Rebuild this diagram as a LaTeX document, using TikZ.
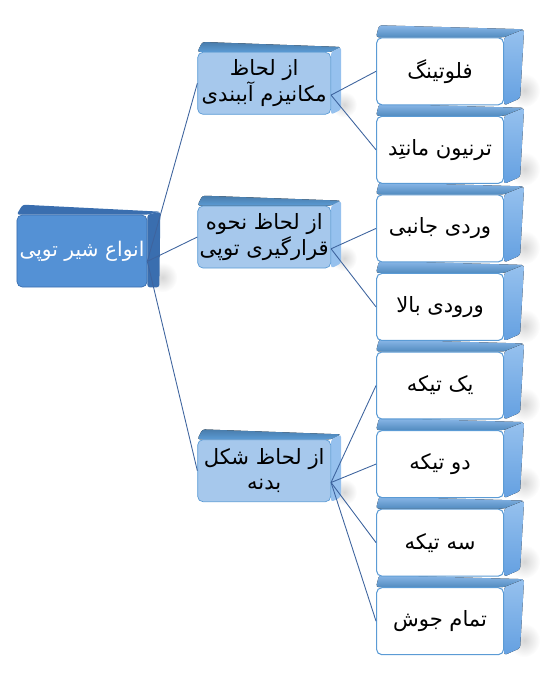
\documentclass[tikz,border=0pt]{standalone}
\usepackage{fontspec}
\newfontfamily\farsi[Script=Arabic]{DejaVu Sans}
\TeXXeTstate=1
\usepackage{tikz}
\usetikzlibrary{positioning}
\usetikzlibrary{backgrounds}
\usepackage{xcolor}
\definecolor{rootblue}{RGB}{84,145,213}
\definecolor{rootdark}{RGB}{58,110,175}
\definecolor{midblue}{RGB}{166,200,236}
\definecolor{edgeblue}{RGB}{91,155,213}
\definecolor{sideblue}{RGB}{100,160,225}
\definecolor{toplight}{RGB}{150,193,238}
\definecolor{linkblue}{RGB}{62,100,158}

\begin{document}
\begin{tikzpicture}

	\tikzstyle{rootblock} = [rectangle, draw=rootdark, fill=rootblue, text=white, text centered, rounded corners=3pt, minimum width=2.6cm, minimum height=1.44cm, inner sep=1pt, font=\farsi\fontsize{11.5}{14}\selectfont]
	\tikzstyle{midblock} = [rectangle, draw=edgeblue, fill=midblue, text centered, align=center, rounded corners=3pt, minimum width=2.66cm, minimum height=1.24cm, inner sep=1pt, font=\farsi\fontsize{12}{14.5}\selectfont]
	\tikzstyle{leafblock} = [rectangle, draw=edgeblue, line width=0.6pt, fill=white, text centered, rounded corners=3pt, minimum width=2.54cm, minimum height=1.34cm, inner sep=1pt, font=\farsi\fontsize{12}{14.5}\selectfont]
	\tikzstyle{rootside} = [rounded corners=1.5pt, fill=rootdark]
	\tikzstyle{midtop} = [rounded corners=1.5pt, top color=edgeblue!80!black, bottom color=edgeblue]
	\tikzstyle{midside} = [rounded corners=1.5pt, fill=toplight]
	\tikzstyle{leaftop} = [rounded corners=1.5pt, top color=sideblue!75!white, bottom color=edgeblue!90!black]
	\tikzstyle{leafside} = [rounded corners=1.5pt, top color=toplight, bottom color=sideblue]
	\tikzstyle{shadow} = [inner color=black!16, outer color=white]
	\tikzstyle{link} = [draw=linkblue, line width=0.5pt]

	\useasboundingbox (0,0) rectangle (11,-13.7);

	% root
	\node [rootblock] (root) at (1.64,-5.02) {\beginR انواع شیر توپی\endR};

	% middle level
	\node [midblock, right=1.0cm of root, yshift=0.28cm] (m2) {\beginR از لحاظ نحوه\endR\\\beginR قرارگیری توپی\endR};
	\node [midblock, above=1.82cm of m2] (m1) {\beginR از لحاظ\endR\\\beginR مکانیزم آببندی\endR};
	\node [midblock, below=3.42cm of m2] (m3) {\beginR از لحاظ شکل\endR\\\beginR بدنه\endR};

	% leaves
	\node [leafblock, right=0.9cm of m1, yshift=0.24cm] (l1) {\beginR فلوتینگ\endR};
	\node [leafblock, below=0.21cm of l1] (l2) {\beginR ترنیون مانتِد\endR};
	\node [leafblock, below=0.21cm of l2] (l3) {\beginR وردی جانبی\endR};
	\node [leafblock, below=0.21cm of l3] (l4) {\beginR ورودی بالا\endR};
	\node [leafblock, below=0.21cm of l4] (l5) {\beginR یک تیکه\endR};
	\node [leafblock, below=0.21cm of l5] (l6) {\beginR دو تیکه\endR};
	\node [leafblock, below=0.21cm of l6] (l7) {\beginR سه تیکه\endR};
	\node [leafblock, below=0.21cm of l7] (l8) {\beginR تمام جوش\endR};

	% shadows
	\begin{pgfonlayer}{background}
		\shade [shadow] ([shift={(0.3,0.2)}]root.south east) ellipse (0.3cm and 0.3cm);
		\shade [shadow] ([shift={(0.26,0.2)}]m1.south east) ellipse (0.26cm and 0.26cm);
		\shade [shadow] ([shift={(0.26,0.2)}]m2.south east) ellipse (0.26cm and 0.26cm);
		\shade [shadow] ([shift={(0.26,0.2)}]m3.south east) ellipse (0.26cm and 0.26cm);
		\shade [shadow] ([shift={(0.4,0.3)}]l1.south east) ellipse (0.32cm and 0.34cm);
		\shade [shadow] ([shift={(0.4,0.3)}]l2.south east) ellipse (0.32cm and 0.34cm);
		\shade [shadow] ([shift={(0.4,0.3)}]l3.south east) ellipse (0.32cm and 0.34cm);
		\shade [shadow] ([shift={(0.4,0.3)}]l4.south east) ellipse (0.32cm and 0.34cm);
		\shade [shadow] ([shift={(0.4,0.3)}]l5.south east) ellipse (0.32cm and 0.34cm);
		\shade [shadow] ([shift={(0.4,0.3)}]l6.south east) ellipse (0.32cm and 0.34cm);
		\shade [shadow] ([shift={(0.4,0.3)}]l7.south east) ellipse (0.32cm and 0.34cm);
		\shade [shadow] ([shift={(0.4,0.3)}]l8.south east) ellipse (0.32cm and 0.34cm);
	\end{pgfonlayer}

	% 3d faces
	\begin{pgfonlayer}{background}
		\fill [rootside] (root.north west) -- ([shift={(0.12,0.2)}]root.north west) -- ([shift={(0.26,0.06)}]root.north east) -- (root.north east) -- cycle;
		\fill [rootside] (root.north east) -- ([shift={(0.26,0.06)}]root.north east) -- ([shift={(0.24,0)}]root.south east) -- (root.south east) -- cycle;

		\fill [midtop] (m1.north west) -- ([shift={(0.1,0.2)}]m1.north west) -- ([shift={(0.2,0.1)}]m1.north east) -- (m1.north east) -- cycle;
		\fill [midside] (m1.north east) -- ([shift={(0.2,0.1)}]m1.north east) -- ([shift={(0.2,0.1)}]m1.south east) -- (m1.south east) -- cycle;
		\fill [midtop] (m2.north west) -- ([shift={(0.1,0.2)}]m2.north west) -- ([shift={(0.2,0.1)}]m2.north east) -- (m2.north east) -- cycle;
		\fill [midside] (m2.north east) -- ([shift={(0.2,0.1)}]m2.north east) -- ([shift={(0.2,0.1)}]m2.south east) -- (m2.south east) -- cycle;
		\fill [midtop] (m3.north west) -- ([shift={(0.1,0.2)}]m3.north west) -- ([shift={(0.2,0.1)}]m3.north east) -- (m3.north east) -- cycle;
		\fill [midside] (m3.north east) -- ([shift={(0.2,0.1)}]m3.north east) -- ([shift={(0.2,0.1)}]m3.south east) -- (m3.south east) -- cycle;

		\fill [leaftop] (l1.north west) -- ([shift={(0.06,0.24)}]l1.north west) -- ([shift={(0.4,0.16)}]l1.north east) -- (l1.north east) -- cycle;
		\fill [leafside] (l1.north east) -- ([shift={(0.4,0.16)}]l1.north east) -- ([shift={(0.32,0.14)}]l1.south east) -- (l1.south east) -- cycle;
		\fill [leaftop] (l2.north west) -- ([shift={(0.06,0.24)}]l2.north west) -- ([shift={(0.4,0.16)}]l2.north east) -- (l2.north east) -- cycle;
		\fill [leafside] (l2.north east) -- ([shift={(0.4,0.16)}]l2.north east) -- ([shift={(0.32,0.14)}]l2.south east) -- (l2.south east) -- cycle;
		\fill [leaftop] (l3.north west) -- ([shift={(0.06,0.24)}]l3.north west) -- ([shift={(0.4,0.16)}]l3.north east) -- (l3.north east) -- cycle;
		\fill [leafside] (l3.north east) -- ([shift={(0.4,0.16)}]l3.north east) -- ([shift={(0.32,0.14)}]l3.south east) -- (l3.south east) -- cycle;
		\fill [leaftop] (l4.north west) -- ([shift={(0.06,0.24)}]l4.north west) -- ([shift={(0.4,0.16)}]l4.north east) -- (l4.north east) -- cycle;
		\fill [leafside] (l4.north east) -- ([shift={(0.4,0.16)}]l4.north east) -- ([shift={(0.32,0.14)}]l4.south east) -- (l4.south east) -- cycle;
		\fill [leaftop] (l5.north west) -- ([shift={(0.06,0.24)}]l5.north west) -- ([shift={(0.4,0.16)}]l5.north east) -- (l5.north east) -- cycle;
		\fill [leafside] (l5.north east) -- ([shift={(0.4,0.16)}]l5.north east) -- ([shift={(0.32,0.14)}]l5.south east) -- (l5.south east) -- cycle;
		\fill [leaftop] (l6.north west) -- ([shift={(0.06,0.24)}]l6.north west) -- ([shift={(0.4,0.16)}]l6.north east) -- (l6.north east) -- cycle;
		\fill [leafside] (l6.north east) -- ([shift={(0.4,0.16)}]l6.north east) -- ([shift={(0.32,0.14)}]l6.south east) -- (l6.south east) -- cycle;
		\fill [leaftop] (l7.north west) -- ([shift={(0.06,0.24)}]l7.north west) -- ([shift={(0.4,0.16)}]l7.north east) -- (l7.north east) -- cycle;
		\fill [leafside] (l7.north east) -- ([shift={(0.4,0.16)}]l7.north east) -- ([shift={(0.32,0.14)}]l7.south east) -- (l7.south east) -- cycle;
		\fill [leaftop] (l8.north west) -- ([shift={(0.06,0.24)}]l8.north west) -- ([shift={(0.4,0.16)}]l8.north east) -- (l8.north east) -- cycle;
		\fill [leafside] (l8.north east) -- ([shift={(0.4,0.16)}]l8.north east) -- ([shift={(0.32,0.14)}]l8.south east) -- (l8.south east) -- cycle;
	\end{pgfonlayer}

	% connections
	\draw [link] (root.-9) -- (m1.west);
	\draw [link] (root.-9) -- (m2.west);
	\draw [link] (root.-9) -- (m3.west);
	\draw [link] (m1.-10) -- (l1.west);
	\draw [link] (m1.-10) -- (l2.west);
	\draw [link] (m2.-10) -- (l3.west);
	\draw [link] (m2.-10) -- (l4.west);
	\draw [link] (m3.-10) -- (l5.west);
	\draw [link] (m3.-10) -- (l6.west);
	\draw [link] (m3.-10) -- (l7.west);
	\draw [link] (m3.-10) -- (l8.west);

\end{tikzpicture}
\end{document}
